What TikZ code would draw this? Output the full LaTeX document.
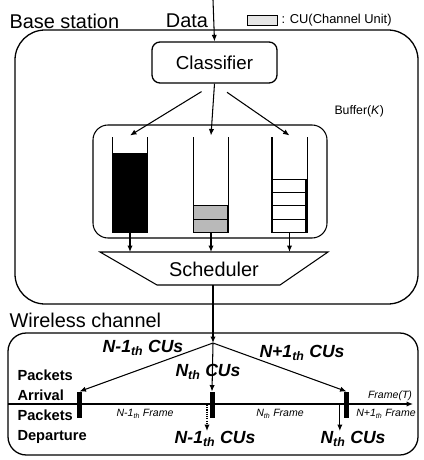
\documentclass[tikz,border=0pt]{standalone}
\usepackage{fontspec}
\setmainfont{Liberation Sans}
\usetikzlibrary{calc,arrows.meta}
\newcommand{\bigtext}{\fontsize{17}{19}\selectfont}
\newcommand{\myqueue}[2]
{
\node[queue] (#1) at (#2) {};
\draw (#1.north west) -- (#1.south west) -- (#1.south east) -- (#1.north east);
}

\begin{document}
\begin{tikzpicture}[x=0.03cm, y=-0.03cm, >={Latex[length=5.5pt,width=4.5pt]}, line width=0.9pt,
  queue/.style={minimum width=34*0.03cm, minimum height=94*0.03cm, inner sep=0pt},
  bar/.style={fill=black, minimum width=5*0.03cm, minimum height=26*0.03cm, inner sep=0pt},
  title/.style={font=\bigtext, inner sep=0pt},
  cu/.style={font=\fontsize{15}{17}\selectfont\bfseries\itshape, inner sep=0pt},
  framelabel/.style={font=\fontsize{9}{10}\selectfont\itshape, inner sep=0pt},
  packets/.style={font=\fontsize{12.5}{14}\selectfont\bfseries, anchor=base west, inner sep=0pt}]
  \useasboundingbox (0,0) rectangle (423,460);

  % base station
  \draw[rounded corners=0.9cm, line width=1.1pt] (15,30) rectangle (418,304);
  \node[title, anchor=west] (bstitle) at (9,21) {Base station};
  \node[title] (data) at (187,21) {Data};
  \coordinate (datain) at (213,0);
  \node[draw, line width=1.1pt, rounded corners=0.24cm, minimum width=125*0.03cm,
        minimum height=41*0.03cm, font=\fontsize{16}{18}\selectfont] (classifier)
        at (214.5,62.5) {Classifier};
  \draw[->] (datain) -- (classifier.north);

  % legend
  \node[draw, thin, fill=gray!20, minimum width=30*0.03cm, minimum height=10*0.03cm,
        inner sep=0pt] (cunit) at (262,20) {};
  \node[anchor=west, font=\fontsize{11}{13}\selectfont, inner sep=0pt] (cunitlabel)
        at (281,20) {: CU(Channel Unit)};

  % buffers
  \draw[rounded corners=0.45cm] (93,125) rectangle (327,238);
  \node[anchor=west, font=\fontsize{10.5}{12}\selectfont, inner sep=0pt] (buflabel)
        at (334,111) {Buffer(\textit{K})};
  \myqueue{q1}{130,185}
  \myqueue{q2}{211,185}
  \myqueue{q3}{289.5,185}
  \fill (q1.south west) rectangle ($(q1.south east)+(0,-80)$);
  \foreach \i in {0,1}
    \filldraw[fill=gray!55] (q2.south west) ++(0,-\i*13.3) rectangle ++(34,-13.3);
  \foreach \i in {0,...,3}
    \draw (q3.south west) ++(0,-\i*13.3) rectangle ++(34,-13.3);
  \draw[->, shorten <=13pt] (classifier.south) -- ([yshift=0.06cm]q1.north);
  \draw[->] (classifier.south) -- ([yshift=0.06cm]q2.north);
  \draw[->, shorten <=13pt] (classifier.south) -- ([yshift=0.06cm]q3.north);

  % scheduler
  \coordinate (schtop) at (213,252);
  \coordinate (schbot) at (213,285);
  \draw (100,252) -- (328,252) -- (280,285) -- (157,285) -- cycle;
  \node[title] (scheduler) at (214,269) {Scheduler};
  \foreach \q in {q1,q2,q3}
    \draw[->] (\q.south) -- (\q.south |- schtop);

  % wireless channel
  \node[title, anchor=west] (wctitle) at (9,320) {Wireless channel};
  \draw[rounded corners=0.55cm, line width=1.1pt] (8,333) rectangle (418,455);
  \coordinate (apex) at (213,343);
  \draw[->] (schbot) -- (apex);
  \draw[->] (8,404) -- (413,404);
  \node[bar] (b1) at (79.5,405) {};
  \node[bar] (b2) at (212,405) {};
  \node[bar] (b3) at (346.5,405) {};
  \draw[->] (apex) -- (b1.north);
  \draw[->] (apex) -- (b2.north);
  \draw[->] (apex) -- (b3.north);
  \draw[->, densely dotted] ([xshift=-0.15cm]b2.center) -- ++(0,26);
  \draw[->] ([xshift=-0.2cm]b3.center) -- ++(0,26);

  \node[cu] (cuprev) at (143,348) {N-1\textsubscript{th} CUs};
  \node[cu] (cucur) at (208,372) {N\textsubscript{th} CUs};
  \node[cu] (cunext) at (302,353) {N+1\textsubscript{th} CUs};
  \node[cu] (outprev) at (215,439) {N-1\textsubscript{th} CUs};
  \node[cu] (outcur) at (353,439) {N\textsubscript{th} CUs};

  \node[framelabel] (fprev) at (145,414) {N-1\textsubscript{th} Frame};
  \node[framelabel] (fcur) at (280,414) {N\textsubscript{th} Frame};
  \node[framelabel] (fnext) at (386,414) {N+1\textsubscript{th} Frame};
  \node[framelabel] (faxis) at (390,396) {Frame(T)};

  \node[packets] (arrival1) at (17,380) {Packets};
  \node[packets] (arrival2) at (17,400) {Arrival};
  \node[packets] (departure1) at (17,420) {Packets};
  \node[packets] (departure2) at (17,440) {Departure};
\end{tikzpicture}
\end{document}
